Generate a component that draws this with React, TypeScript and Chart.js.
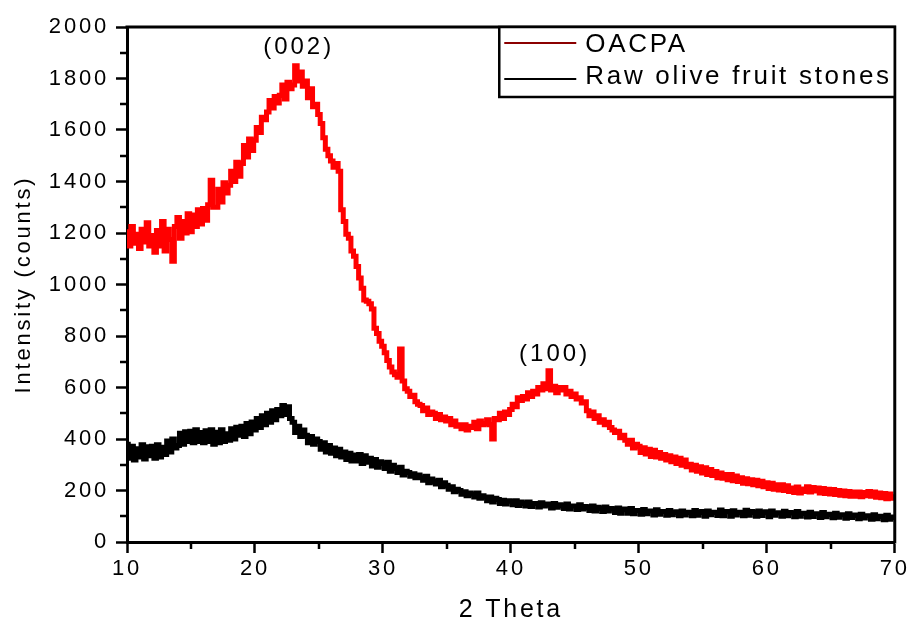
import React, { useEffect, useRef } from 'react';
import { Chart, registerables } from 'chart.js';

Chart.register(...registerables);

// 2-theta grid of the scan: starts at 10 deg, one reading every 0.2 deg
const X_START = 10;
const X_STEP = 0.2;

const seriesNames = ['OACPA', 'Raw olive fruit stones'];

// OACPA intensities (counts), 10..70 deg, 0.2 deg step
const oacpa = [
  1205, 1150, 1225, 1160, 1195,
  1140, 1215, 1165, 1240, 1150,
  1190, 1125, 1210, 1150, 1245,
  1130, 1215, 1175, 1090, 1225,
  1260, 1180, 1245, 1200, 1275,
  1205, 1270, 1225, 1290, 1235,
  1295, 1250, 1310, 1405, 1300,
  1300, 1370, 1320, 1395, 1355,
  1385, 1440, 1400, 1475, 1420,
  1470, 1540, 1495, 1565, 1520,
  1560, 1610, 1590, 1650, 1640,
  1670, 1715, 1685, 1730, 1705,
  1735, 1775, 1720, 1785, 1760,
  1775, 1850, 1790, 1825, 1770,
  1790, 1725, 1760, 1690, 1700,
  1660, 1625, 1570, 1525, 1500,
  1480, 1455, 1470, 1440, 1290,
  1245, 1195, 1180, 1130, 1110,
  1070, 1025, 985, 940, 935,
  925, 905, 830, 810, 780,
  760, 735, 705, 680, 660,
  650, 640, 750, 625, 595,
  585, 565, 570, 545, 535,
  530, 510, 520, 495, 505,
  500, 480, 495, 475, 485,
  470, 480, 455, 470, 450,
  455, 440, 455, 435, 450,
  445, 465, 440, 470, 455,
  460, 475, 455, 400, 480,
  475, 500, 480, 505, 495,
  515, 535, 525, 560, 550,
  565, 555, 580, 565, 585,
  575, 600, 590, 615, 595,
  665, 590, 605, 580, 600,
  590, 600, 575, 585, 565,
  575, 555, 560, 540, 545,
  510, 490, 505, 480, 490,
  465, 475, 455, 465, 445,
  435, 425, 430, 405, 415,
  395, 380, 395, 365, 380,
  372, 348, 366, 342, 360,
  332, 356, 330, 348, 325,
  340, 318, 335, 312, 330,
  305, 325, 298, 318, 292,
  302, 280, 298, 275, 292,
  268, 288, 262, 282, 258,
  274, 250, 268, 248, 262,
  242, 262, 238, 256, 235,
  250, 228, 246, 226, 242,
  222, 240, 218, 236, 215,
  230, 208, 228, 205, 222,
  202, 222, 200, 218, 196,
  210, 192, 214, 190, 206,
  196, 215, 194, 212, 198,
  210, 190, 208, 188, 205,
  186, 204, 184, 200, 182,
  198, 180, 196, 178, 194,
  178, 194, 176, 192, 180,
  196, 178, 194, 174, 190,
  172, 188, 168, 186, 170,
  176,
];

// Raw olive fruit stones intensities (counts), 10..70 deg, 0.2 deg step
const rawStones = [
  380, 325, 372, 318, 362,
  330, 378, 322, 370, 335,
  372, 325, 378, 330, 368,
  340, 392, 350, 400, 365,
  375, 422, 380, 428, 390,
  430, 385, 436, 390, 425,
  385, 432, 390, 436, 380,
  426, 385, 436, 390, 420,
  395, 440, 400, 446, 415,
  450, 410, 460, 420, 466,
  435, 480, 445, 490, 455,
  500, 465, 510, 475, 515,
  490, 530, 495, 525, 480,
  465, 425, 450, 410, 435,
  415, 385, 410, 380, 400,
  390, 360, 385, 350, 375,
  345, 365, 335, 360, 330,
  350, 320, 345, 315, 338,
  315, 340, 305, 335, 310,
  325, 295, 320, 290, 312,
  305, 285, 310, 275, 298,
  285, 270, 290, 260, 275,
  270, 255, 265, 250, 260,
  250, 240, 255, 230, 245,
  235, 225, 240, 215, 230,
  220, 205, 215, 195, 205,
  200, 185, 195, 180, 190,
  185, 175, 190, 170, 180,
  175, 160, 175, 155, 170,
  165, 150, 162, 148, 160,
  158, 145, 160, 142, 155,
  150, 140, 155, 138, 150,
  150, 136, 152, 140, 148,
  145, 132, 150, 135, 145,
  142, 130, 148, 128, 140,
  140, 126, 145, 128, 138,
  135, 122, 140, 120, 135,
  130, 118, 136, 120, 130,
  128, 115, 132, 112, 128,
  125, 112, 130, 110, 122,
  122, 108, 126, 110, 120,
  120, 105, 125, 108, 118,
  118, 104, 122, 106, 116,
  117, 102, 120, 105, 115,
  116, 102, 122, 104, 115,
  118, 100, 120, 106, 116,
  115, 103, 124, 102, 117,
  118, 100, 121, 105, 114,
  116, 102, 123, 104, 118,
  115, 100, 120, 103, 114,
  117, 98, 120, 104, 113,
  114, 100, 119, 102, 115,
  113, 98, 118, 100, 112,
  112, 97, 116, 99, 110,
  110, 95, 115, 98, 108,
  108, 94, 112, 96, 106,
  106, 92, 110, 95, 105,
  104, 90, 108, 93, 102,
  102, 88, 106, 90, 100,
  99, 86, 104, 88, 97,
  95,
];

const X_MIN = 10;
const X_MAX = 70;
const X_MAJOR_STEP = 10;
const xMinorTicks = [15, 25, 35, 45, 55, 65];
const Y_MIN = 0;
const Y_MAX = 2000;
const Y_MAJOR_STEP = 200;
const yMinorTicks = [100, 300, 500, 700, 900, 1100, 1300, 1500, 1700, 1900];

const peakLabels = [
  { text: '(002)', x: 23.3, y: 1920 },
  { text: '(100)', x: 43.3, y: 727 },
];

const lineColors = ['#ff0000', '#000000'];
const legendColors = ['#8b0000', '#000000'];

const FONT = '"Liberation Sans", Arial, Helvetica, sans-serif';

const toPoints = (vals: number[]) =>
  vals.map((v, i) => ({ x: Math.round((X_START + i * X_STEP) * 100) / 100, y: v }));

const spacingPlugin = {
  id: 'letterSpacing',
  beforeDraw(chart: any) {
    (chart.ctx as any).letterSpacing = '2.8px';
  },
};

const framePlugin = {
  id: 'frame',
  afterDraw(chart: any) {
    const { ctx, chartArea } = chart;
    const x = chart.scales.x;
    const y = chart.scales.y;
    ctx.save();
    ctx.strokeStyle = '#000';
    ctx.lineWidth = 3;
    ctx.beginPath();
    ctx.moveTo(chartArea.left - 1.5, chartArea.top);
    ctx.lineTo(chartArea.right, chartArea.top);
    ctx.lineTo(chartArea.right, chartArea.bottom + 1.5);
    ctx.stroke();
    // minor ticks
    ctx.lineWidth = 2.5;
    ctx.beginPath();
    yMinorTicks.forEach((v) => {
      const py = Math.round(y.getPixelForValue(v));
      ctx.moveTo(chartArea.left - 7, py);
      ctx.lineTo(chartArea.left, py);
    });
    xMinorTicks.forEach((v) => {
      const px = Math.round(x.getPixelForValue(v));
      ctx.moveTo(px, chartArea.bottom);
      ctx.lineTo(px, chartArea.bottom + 7);
    });
    ctx.stroke();
    ctx.restore();
  },
};

const peakLabelPlugin = {
  id: 'peakLabels',
  afterDatasetsDraw(chart: any) {
    const { ctx } = chart;
    const x = chart.scales.x;
    const y = chart.scales.y;
    ctx.save();
    (ctx as any).letterSpacing = '3px';
    ctx.font = `24px ${FONT}`;
    ctx.fillStyle = '#000';
    ctx.textAlign = 'center';
    ctx.textBaseline = 'middle';
    peakLabels.forEach((p) => {
      ctx.fillText(p.text, x.getPixelForValue(p.x) + 1.5, y.getPixelForValue(p.y));
    });
    ctx.restore();
  },
};

const boxLegendPlugin = {
  id: 'boxLegend',
  afterDraw(chart: any) {
    const { ctx, chartArea } = chart;
    const ds = chart.data.datasets;
    ctx.save();
    (ctx as any).letterSpacing = '2.7px';
    ctx.font = `26px ${FONT}`;
    const textW = Math.max(...ds.map((d: any) => ctx.measureText(d.label).width));
    const padL = 5;
    const lineLen = 72;
    const gap = 9;
    const padR = 3;
    const boxW = padL + lineLen + gap + textW + padR;
    const boxH = 70;
    const left = chartArea.right - boxW;
    const top = chartArea.top;
    ctx.fillStyle = '#fff';
    ctx.fillRect(left, top, boxW, boxH);
    ctx.strokeStyle = '#000';
    ctx.lineWidth = 2.5;
    ctx.strokeRect(left, top, boxW, boxH);
    const lineYs = [16, 52];
    const textYs = [18, 50];
    ds.forEach((d: any, i: number) => {
      ctx.strokeStyle = legendColors[i];
      ctx.lineWidth = 2;
      ctx.beginPath();
      ctx.moveTo(left + padL, top + lineYs[i]);
      ctx.lineTo(left + padL + lineLen, top + lineYs[i]);
      ctx.stroke();
      ctx.fillStyle = '#000';
      ctx.textAlign = 'left';
      ctx.textBaseline = 'middle';
      ctx.fillText(d.label, left + padL + lineLen + gap, top + textYs[i]);
    });
    ctx.restore();
  },
};

export default function App() {
  const canvasRef = useRef<HTMLCanvasElement | null>(null);

  useEffect(() => {
    if (!canvasRef.current) return;
    const chart = new Chart(canvasRef.current, {
      type: 'line',
      data: {
        datasets: [
          {
            label: seriesNames[0],
            data: toPoints(oacpa),
            borderColor: lineColors[0],
            borderWidth: 5,
            stepped: 'middle',
            pointRadius: 0,
            fill: false,
          },
          {
            label: seriesNames[1],
            data: toPoints(rawStones),
            borderColor: lineColors[1],
            borderWidth: 5,
            stepped: 'middle',
            pointRadius: 0,
            fill: false,
          },
        ],
      },
      options: {
        animation: false,
        responsive: false,
        devicePixelRatio: 1,
        layout: { padding: { left: 0, right: 15, top: 27, bottom: 0 } },
        plugins: {
          legend: { display: false },
          tooltip: { enabled: false },
        },
        scales: {
          x: {
            type: 'linear',
            min: X_MIN,
            max: X_MAX,
            ticks: {
              stepSize: X_MAJOR_STEP,
              color: '#000',
              font: { family: FONT, size: 22 },
              padding: 3,
              maxRotation: 0,
              autoSkip: false,
              callback: (v: any) => String(v),
            },
            grid: {
              drawOnChartArea: false,
              drawTicks: true,
              tickLength: 11,
              tickWidth: 2.5,
              tickColor: '#000',
            },
            border: { display: true, color: '#000', width: 3 },
            title: {
              display: true,
              text: '2 Theta',
              color: '#000',
              font: { family: FONT, size: 25, lineHeight: 0.72 },
              padding: { top: 0, bottom: 0 },
            },
            afterFit: (s: any) => {
              s.height = 77;
            },
          },
          y: {
            type: 'linear',
            min: Y_MIN,
            max: Y_MAX,
            ticks: {
              stepSize: Y_MAJOR_STEP,
              color: '#000',
              font: { family: FONT, size: 22 },
              padding: 7,
              callback: (v: any) => String(v),
            },
            grid: {
              drawOnChartArea: false,
              drawTicks: true,
              tickLength: 11,
              tickWidth: 2.5,
              tickColor: '#000',
            },
            border: { display: true, color: '#000', width: 3 },
            title: {
              display: true,
              text: 'Intensity (counts)',
              color: '#000',
              font: { family: FONT, size: 22 },
              padding: { top: 11, bottom: 0 },
            },
            afterFit: (s: any) => {
              s.width = 127;
            },
          },
        },
      } as any,
      plugins: [spacingPlugin, peakLabelPlugin, framePlugin, boxLegendPlugin],
    });
    return () => chart.destroy();
  }, []);

  return (
    <div style={{ position: 'fixed', left: 0, top: 0, width: 910, height: 619, background: '#fff' }}>
      <canvas ref={canvasRef} width={910} height={619} style={{ display: 'block' }} />
    </div>
  );
}
